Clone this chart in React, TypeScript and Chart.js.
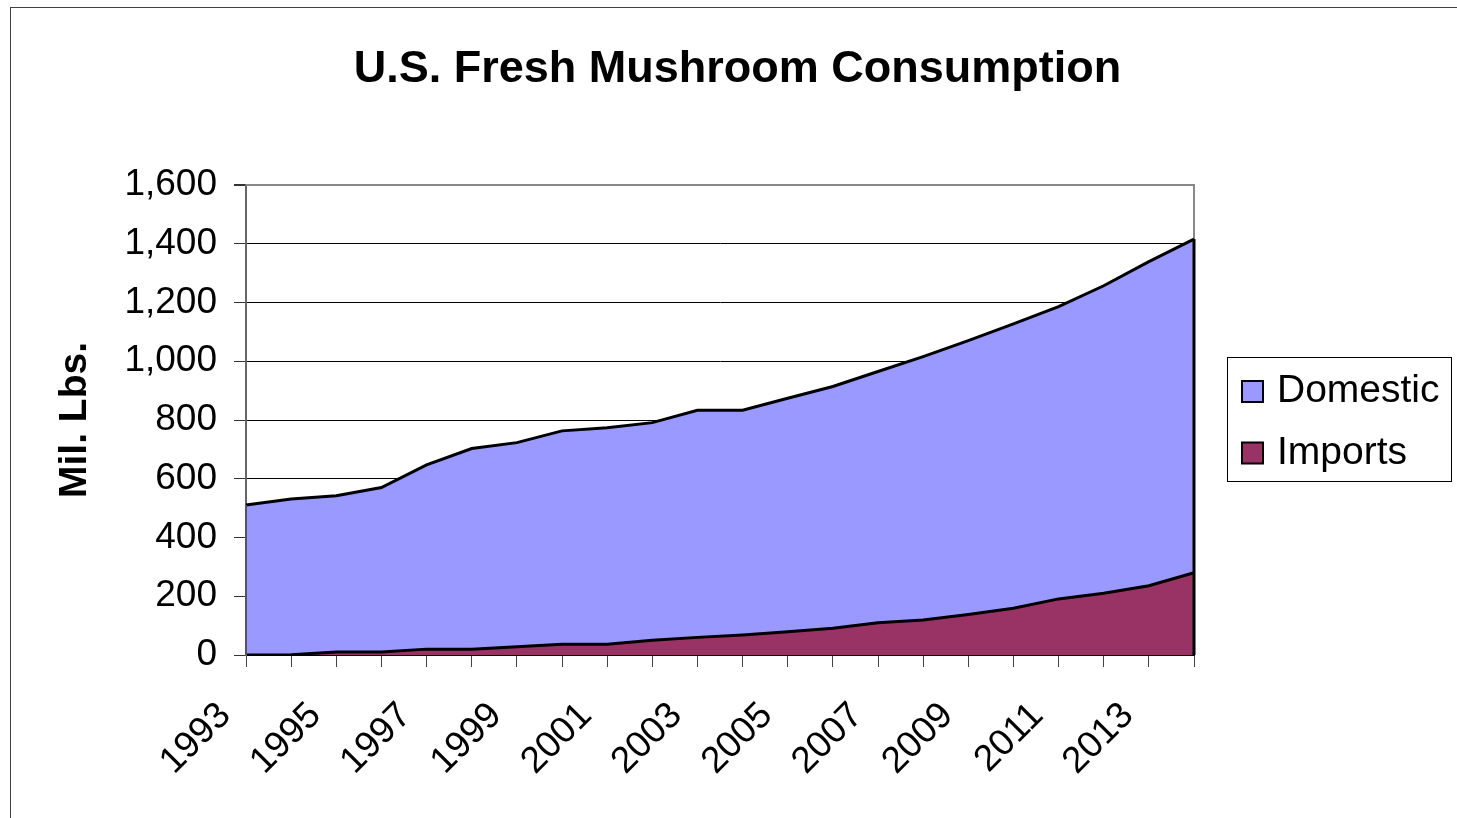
import React, { useEffect, useRef } from "react";
import { Chart, registerables } from "chart.js";

Chart.register(...registerables);

const TITLE = "U.S. Fresh Mushroom Consumption";
const Y_TITLE = "Mil. Lbs.";

const years = [
  "1993", "1994", "1995", "1996", "1997", "1998", "1999", "2000", "2001", "2002", "2003",
  "2004", "2005", "2006", "2007", "2008", "2009", "2010", "2011", "2012", "2013", "2014",
];

const importsValues = [0, 1, 10, 10, 20, 20, 28, 37, 37, 50, 60, 68, 79, 91, 110, 119, 138, 159, 191, 210, 236, 280];

const domesticValues = [511, 530, 532, 560, 627, 683, 695, 726, 737, 741, 773, 765, 795, 823, 855, 897, 932, 968, 995, 1047, 1103, 1136];

const seriesLabels = ["Imports", "Domestic"];
const seriesColors = ["#993366", "#9999FF"];

const FONT = '"Liberation Sans", Arial, Helvetica, sans-serif';

const decorPlugin = {
  id: "decor",
  beforeDraw(chart: any) {
    const ctx = chart.ctx;
    ctx.save();
    ctx.fillStyle = "#ffffff";
    ctx.fillRect(0, 0, chart.width, chart.height);
    ctx.strokeStyle = "#404040";
    ctx.lineWidth = 1;
    ctx.strokeRect(10.5, 7.5, chart.width + 100, chart.height + 100);
    ctx.fillStyle = "#000";
    ctx.font = `bold 45px ${FONT}`;
    ctx.textAlign = "center";
    ctx.textBaseline = "alphabetic";
    ctx.fillText(TITLE, 737.5, 82);
    ctx.restore();
  },
  beforeDatasetsDraw(chart: any) {
    const { ctx, chartArea: a } = chart;
    ctx.save();
    ctx.strokeStyle = "#888";
    ctx.lineWidth = 2;
    ctx.beginPath();
    ctx.moveTo(a.left, a.top);
    ctx.lineTo(a.right, a.top);
    ctx.lineTo(a.right, a.bottom);
    ctx.stroke();
    ctx.restore();
  },
  afterDatasetsDraw(chart: any) {
    const { ctx, chartArea: a, scales } = chart;
    const n = years.length;
    const firstTotal = importsValues[0] + domesticValues[0];
    const lastTotal = importsValues[n - 1] + domesticValues[n - 1];
    const y = scales.y;
    ctx.save();
    ctx.strokeStyle = "#000";
    ctx.lineWidth = 3;
    ctx.beginPath();
    ctx.moveTo(a.right, y.getPixelForValue(lastTotal));
    ctx.lineTo(a.right, a.bottom);
    ctx.stroke();
    ctx.strokeStyle = "#555";
    ctx.lineWidth = 2;
    ctx.beginPath();
    ctx.moveTo(a.left, y.getPixelForValue(firstTotal));
    ctx.lineTo(a.left, a.bottom);
    ctx.stroke();
    ctx.restore();
  },
  afterDraw(chart: any) {
    const { ctx, chartArea: a } = chart;
    const lw = 224;
    const lh = 124;
    const lx = a.right + 33;
    const ly = Math.round((a.top + a.bottom) / 2 - lh / 2 - 1);
    ctx.save();
    ctx.strokeStyle = "#000";
    ctx.lineWidth = 1;
    ctx.strokeRect(lx + 0.5, ly + 0.5, lw, lh);
    const items = chart.data.datasets.slice().reverse();
    items.forEach((ds: any, i: number) => {
      const by = ly + 24 + i * 61.5;
      ctx.fillStyle = ds.backgroundColor;
      ctx.fillRect(lx + 15, by, 21, 21);
      ctx.strokeStyle = "#000";
      ctx.lineWidth = 2;
      ctx.strokeRect(lx + 15, by, 21, 21);
      ctx.fillStyle = "#000";
      ctx.font = `39px ${FONT}`;
      ctx.textAlign = "left";
      ctx.textBaseline = "alphabetic";
      ctx.fillText(ds.label, lx + 50, by + 21);
    });
    ctx.restore();
  },
};

export default function App() {
  const ref = useRef<HTMLCanvasElement | null>(null);

  useEffect(() => {
    if (!ref.current) return;
    const chart = new Chart(ref.current, {
      type: "line",
      data: {
        labels: years,
        datasets: [
          {
            label: seriesLabels[0],
            data: importsValues,
            backgroundColor: seriesColors[0],
            borderColor: "#000",
            borderWidth: 3,
            fill: "origin",
            pointRadius: 0,
            tension: 0,
          },
          {
            label: seriesLabels[1],
            data: domesticValues,
            backgroundColor: seriesColors[1],
            borderColor: "#000",
            borderWidth: 3,
            fill: "-1",
            pointRadius: 0,
            tension: 0,
          },
        ],
      },
      options: {
        responsive: false,
        animation: false,
        devicePixelRatio: 1,
        layout: { padding: { left: 10, top: 185, right: 263, bottom: 0 } },
        plugins: {
          legend: { display: false },
          title: { display: false },
          tooltip: { enabled: false },
        },
        scales: {
          x: {
            type: "category",
            offset: false,
            afterFit: (s: any) => {
              s.height = 163;
            },
            grid: {
              drawOnChartArea: false,
              drawTicks: true,
              tickLength: 12,
              color: "#444",
              tickColor: "#444",
            },
            border: { color: "#000", width: 2 },
            ticks: {
              autoSkip: false,
              minRotation: 45,
              maxRotation: 45,
              padding: 27,
              labelOffset: -21,
              color: "#000",
              font: { family: FONT, size: 37 },
              callback: (_v: any, i: number) => (i % 2 === 0 ? years[i] : ""),
            },
          },
          y: {
            stacked: true,
            min: 0,
            max: 1600,
            afterFit: (s: any) => {
              s.width = 236;
            },
            grid: {
              drawOnChartArea: true,
              drawTicks: true,
              tickLength: 12,
              color: (c: any) => (c.tick && c.tick.value === 1600 ? "#888" : "#000"),
              lineWidth: (c: any) => (c.tick && c.tick.value === 1600 ? 2 : 1),
              tickColor: "#333",
            },
            border: { color: "#666", width: 2 },
            title: {
              display: true,
              text: Y_TITLE,
              color: "#000",
              font: { family: FONT, size: 39, weight: "bold" },
              padding: { top: 42, bottom: 0 },
            },
            ticks: {
              stepSize: 200,
              padding: 17,
              color: "#000",
              font: { family: FONT, size: 37 },
              callback: (v: any) => Number(v).toLocaleString("en-US"),
            },
          },
        },
      },
      plugins: [decorPlugin],
    });
    return () => chart.destroy();
  }, []);

  return (
    <div style={{ position: "absolute", left: 0, top: 0, width: 1457, height: 818 }}>
      <canvas ref={ref} width={1457} height={818} style={{ display: "block" }} />
    </div>
  );
}
